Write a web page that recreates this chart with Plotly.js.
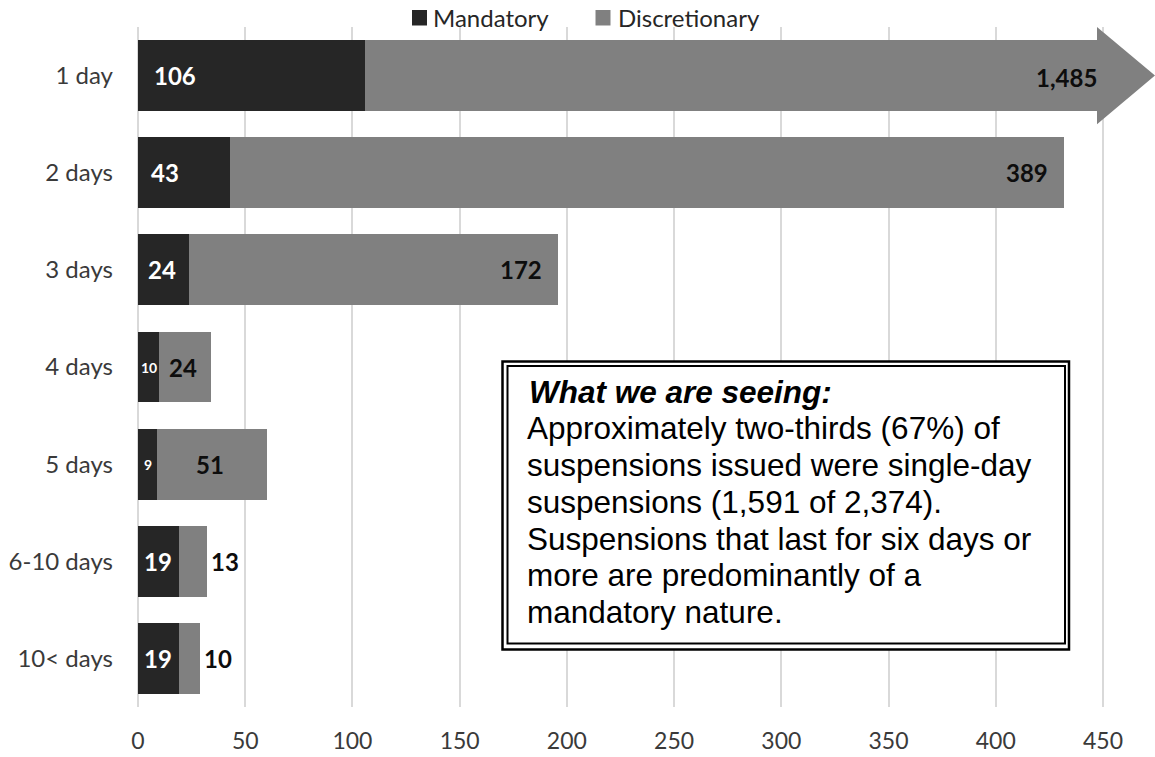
<!DOCTYPE html>
<html>
<head>
<meta charset="utf-8">
<script src="https://cdn.plot.ly/plotly-3.0.1.min.js"></script>
<style>
  html, body { margin: 0; padding: 0; background: #ffffff; }
  #chart { width: 1155px; height: 757px; }
</style>
</head>
<body>
<div id="chart"></div>
<script>
// Suspensions by length, split into mandatory and discretionary
const categories = ['1 day', '2 days', '3 days', '4 days', '5 days', '6-10 days', '10< days'];
const mandatory = [106, 43, 24, 10, 9, 19, 19];
const discretionary = [1485, 389, 172, 24, 51, 13, 10];
const xTickValues = [0, 50, 100, 150, 200, 250, 300, 350, 400, 450];
const seriesNames = ['Mandatory', 'Discretionary'];

const noteTitle = 'What we are seeing:';
const noteLines = [
  'Approximately two-thirds (67%) of',
  'suspensions issued were single-day',
  'suspensions (1,591 of 2,374).',
  'Suspensions that last for six days or',
  'more are predominantly of a',
  'mandatory nature.'
];

// ---- geometry ----
const W = 1155, H = 757;
const M = { l: 138, r: 0, t: 27, b: 50 };
const plotW = W - M.l - M.r, plotH = H - M.t - M.b;
const px = x => (x - M.l) / plotW;          // page pixel -> paper x
const py = y => (H - M.b - y) / plotH;      // page pixel -> paper y

const X_MAX = 474.25;       // axis runs past 450 so the arrow tip fits
const AXIS_BREAK = 447.5;   // long bars are cut here and capped with an arrow

const COLORS = { mandatory: '#262626', discretionary: '#808080' };
const LABEL_FONT = 'Lato, "Open Sans", sans-serif';
const NOTE_FONT = '"Liberation Sans", Arial, sans-serif';

const fmt = v => v.toLocaleString('en-US');
const discShown = discretionary.map((v, i) => Math.min(v, AXIS_BREAK - mandatory[i]));

// label placement styles per bar
const mandPlace = ['base', 'base', 'base', 'mid', 'mid', 'base', 'base'];
const mandInset = [16, 13, 10, 0, 0, 6, 6];
const discPlace = ['end', 'end', 'end', 'mid', 'mid', 'out', 'out'];
const discInset = [1, 16, 16, -2, -2, 4, 4];

const traces = [
  {
    type: 'bar', orientation: 'h', name: seriesNames[0],
    y: categories, x: mandatory,
    marker: { color: COLORS.mandatory },
    hovertemplate: '%{y}: %{x}<extra>' + seriesNames[0] + '</extra>'
  },
  {
    type: 'bar', orientation: 'h', name: seriesNames[1],
    y: categories, x: discShown, customdata: discretionary,
    marker: { color: COLORS.discretionary },
    hovertemplate: '%{y}: %{customdata:,}<extra>' + seriesNames[1] + '</extra>'
  }
];

const annotations = [];

// value labels for mandatory segments
mandatory.forEach((v, i) => {
  const small = mandPlace[i] === 'mid';
  annotations.push({
    x: small ? v / 2 : 0, y: categories[i], xref: 'x', yref: 'y',
    text: fmt(v), showarrow: false,
    xanchor: small ? 'center' : 'left', xshift: small ? 0 : mandInset[i],
    borderpad: 0, borderwidth: 0,
    font: { family: LABEL_FONT, size: small ? 14 : 24, color: '#ffffff', weight: 'bold' }
  });
});

// value labels for discretionary segments
discretionary.forEach((v, i) => {
  const start = mandatory[i], end = mandatory[i] + discShown[i];
  let x, xanchor, xshift;
  if (discPlace[i] === 'end') { x = end; xanchor = 'right'; xshift = -discInset[i]; }
  else if (discPlace[i] === 'out') { x = end; xanchor = 'left'; xshift = discInset[i]; }
  else { x = (start + end) / 2; xanchor = 'center'; xshift = discInset[i]; }
  annotations.push({
    x: x, y: categories[i], xref: 'x', yref: 'y',
    text: fmt(v), showarrow: false, xanchor: xanchor, xshift: xshift,
    yshift: i === 0 ? -2 : 0,
    borderpad: 0, borderwidth: 0,
    font: { family: LABEL_FONT, size: 24, color: '#0d0d0d', weight: 'bold' }
  });
});

// legend text
const legendItems = [
  { name: seriesNames[0], color: COLORS.mandatory, sq: 412, tx: 433 },
  { name: seriesNames[1], color: COLORS.discretionary, sq: 595.5, tx: 618 }
];
legendItems.forEach(it => {
  annotations.push({
    x: px(it.tx), y: py(17), xref: 'paper', yref: 'paper',
    text: it.name, showarrow: false, xanchor: 'left', yanchor: 'middle',
    borderpad: 0, borderwidth: 0,
    font: { family: LABEL_FONT, size: 24, color: '#262626' }
  });
});

// note box text
const NOTE_SIZE = 31.5, NOTE_STEP = 36.7, NOTE_BASE = 402.7;
const noteMid = k => NOTE_BASE + k * NOTE_STEP - 0.3465 * NOTE_SIZE;
annotations.push({
  x: px(529), y: py(noteMid(0)), xref: 'paper', yref: 'paper',
  text: '<b><i>' + noteTitle + '</i></b>', showarrow: false,
  xanchor: 'left', yanchor: 'middle', borderpad: 0, borderwidth: 0,
  font: { family: NOTE_FONT, size: NOTE_SIZE, color: '#000000' }
});
noteLines.forEach((line, k) => {
  annotations.push({
    x: px(527), y: py(noteMid(k + 1)), xref: 'paper', yref: 'paper',
    text: line, showarrow: false,
    xanchor: 'left', yanchor: 'middle', borderpad: 0, borderwidth: 0,
    font: { family: NOTE_FONT, size: NOTE_SIZE, color: '#000000' }
  });
});

const shapes = [
  // arrow head on the cut 1-day bar, spanning its category band
  {
    type: 'path', xref: 'x', yref: 'y', layer: 'above',
    path: 'M ' + (AXIS_BREAK - 0.3) + ',-0.5 L ' + X_MAX + ',0 L ' + (AXIS_BREAK - 0.3) + ',0.5 Z',
    fillcolor: COLORS.discretionary, line: { width: 0 }
  },
  // note box: double border
  {
    type: 'rect', xref: 'paper', yref: 'paper', layer: 'above',
    x0: px(502.5), x1: px(1069), y0: py(361.5), y1: py(649.5),
    fillcolor: '#ffffff', line: { color: '#000000', width: 2.5 }
  },
  {
    type: 'rect', xref: 'paper', yref: 'paper', layer: 'above',
    x0: px(507.5), x1: px(1065), y0: py(366), y1: py(643.5),
    fillcolor: 'rgba(0,0,0,0)', line: { color: '#000000', width: 2 }
  }
];

// legend swatches
legendItems.forEach(it => {
  shapes.push({
    type: 'rect', xref: 'paper', yref: 'paper', layer: 'above',
    x0: px(it.sq), x1: px(it.sq + 15), y0: py(10), y1: py(25.5),
    fillcolor: it.color, line: { width: 0 }
  });
});

const layout = {
  width: W, height: H,
  margin: M,
  paper_bgcolor: '#ffffff', plot_bgcolor: '#ffffff',
  barmode: 'stack', bargap: 0.27,
  showlegend: false,
  font: { family: LABEL_FONT, color: '#3a3a3a' },
  xaxis: {
    type: 'linear', range: [0, X_MAX], fixedrange: true,
    tickvals: xTickValues, ticktext: xTickValues.map(String),
    showgrid: true, gridcolor: '#d9d9d9', gridwidth: 2,
    zeroline: true, zerolinecolor: '#d9d9d9', zerolinewidth: 2,
    showline: false, ticks: '', ticklabelstandoff: 18,
    tickfont: { family: LABEL_FONT, size: 23, color: '#3a3a3a' }
  },
  yaxis: {
    type: 'category', categoryorder: 'array', categoryarray: categories,
    autorange: 'reversed', fixedrange: true,
    showgrid: false, zeroline: false, showline: false,
    ticks: '', ticklabelstandoff: 24,
    tickfont: { family: LABEL_FONT, size: 24, color: '#3a3a3a' }
  },
  annotations: annotations,
  shapes: shapes
};

Plotly.newPlot('chart', traces, layout, { displayModeBar: false, staticPlot: false });
</script>
</body>
</html>
